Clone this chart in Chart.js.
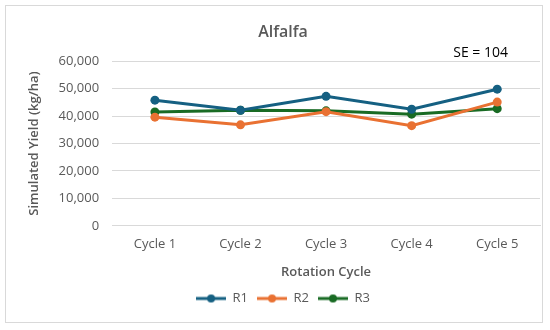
<!DOCTYPE html>
<html lang="en">
<head>
    <meta charset="UTF-8">
    <title>Alfalfa</title>
    <style>
        body { margin: 0; padding: 0; background: #fff; }
        #wrap { position: absolute; left: 0; top: 0; width: 550px; height: 330px; }
    </style>
    <script src="https://cdn.jsdelivr.net/npm/chart.js@4.4.1/dist/chart.umd.min.js"></script>
</head>
<body>
    <div id="wrap"><canvas id="yieldChart"></canvas></div>
    <script>
        // Data
        const cycles = ['Cycle 1', 'Cycle 2', 'Cycle 3', 'Cycle 4', 'Cycle 5'];
        const r1 = [45800, 42100, 47200, 42500, 49800];
        const r2 = [39600, 36800, 41600, 36500, 45100];
        const r3 = [41500, 42100, 41900, 40700, 42700];
        const seLabel = 'SE = 104';

        const FONT = '"Open Sans", "Noto Sans", sans-serif';
        const GREY = '#595959';

        // legend marker: short line with a dot in the middle
        function legendMarker(color) {
            const c = document.createElement('canvas');
            c.width = 30; c.height = 10;
            const g = c.getContext('2d');
            g.strokeStyle = color; g.lineWidth = 3;
            g.beginPath(); g.moveTo(0, 5); g.lineTo(30, 5); g.stroke();
            g.fillStyle = color;
            g.beginPath(); g.arc(15, 5, 4, 0, Math.PI * 2); g.fill();
            return c;
        }

        function series(label, data, color) {
            return {
                label: label,
                data: data,
                borderColor: color,
                backgroundColor: color,
                borderWidth: 3,
                pointRadius: 4.5,
                pointBorderWidth: 0,
                pointStyle: 'circle',
                tension: 0,
                legendMarker: legendMarker(color)
            };
        }

        const frameAndNote = {
            id: 'frameAndNote',
            beforeDraw(chart) {
                const ctx = chart.ctx;
                ctx.save();
                ctx.fillStyle = '#fff';
                ctx.fillRect(0, 0, chart.width, chart.height);
                ctx.strokeStyle = '#d9d9d9';
                ctx.lineWidth = 1;
                ctx.strokeRect(5.5, 5.5, 537, 317);
                ctx.restore();
            },
            afterDraw(chart) {
                const ctx = chart.ctx;
                const a = chart.chartArea;
                ctx.save();
                ctx.font = '14px ' + FONT;
                ctx.fillStyle = '#000';
                ctx.textAlign = 'right';
                ctx.textBaseline = 'middle';
                ctx.fillText(seLabel, a.right - 32, a.top - 8);
                ctx.restore();
            }
        };

        const ctx = document.getElementById('yieldChart').getContext('2d');
        new Chart(ctx, {
            type: 'line',
            data: {
                labels: cycles,
                datasets: [
                    series('R1', r1, '#156082'),
                    series('R2', r2, '#E97132'),
                    series('R3', r3, '#196B24')
                ]
            },
            options: {
                responsive: true,
                maintainAspectRatio: false,
                animation: false,
                layout: { padding: { left: 26, right: 10, top: 8, bottom: 15 } },
                plugins: {
                    title: {
                        display: true,
                        text: 'Alfalfa',
                        color: GREY,
                        font: { family: FONT, size: 16, weight: '600' },
                        padding: { top: 15, bottom: 19 }
                    },
                    legend: {
                        position: 'bottom',
                        labels: {
                            usePointStyle: true,
                            pointStyleWidth: 30,
                            color: GREY,
                            font: { family: FONT, size: 13 },
                            padding: 9,
                            generateLabels(chart) {
                                return chart.data.datasets.map((ds, i) => ({
                                    text: ds.label,
                                    fillStyle: ds.borderColor,
                                    strokeStyle: ds.borderColor,
                                    lineWidth: 0,
                                    pointStyle: ds.legendMarker,
                                    fontColor: GREY,
                                    hidden: false,
                                    datasetIndex: i
                                }));
                            }
                        }
                    },
                    tooltip: { enabled: false }
                },
                scales: {
                    x: {
                        offset: true,
                        grid: { display: false },
                        border: { color: '#d9d9d9' },
                        ticks: { color: GREY, font: { family: FONT, size: 13 }, padding: 3 },
                        title: {
                            display: true,
                            text: 'Rotation Cycle',
                            color: GREY,
                            font: { family: FONT, size: 13, weight: '600' },
                            padding: { top: 9, bottom: 3 }
                        }
                    },
                    y: {
                        min: 0,
                        max: 60000,
                        ticks: { stepSize: 10000, color: GREY, font: { family: FONT, size: 13 }, padding: 13 },
                        grid: { color: '#d9d9d9', drawTicks: false },
                        border: { display: false },
                        title: {
                            display: true,
                            text: 'Simulated Yield (kg/ha)',
                            color: GREY,
                            font: { family: FONT, size: 13, weight: '600' },
                            padding: { top: 0, bottom: 4 }
                        }
                    }
                }
            },
            plugins: [frameAndNote]
        });
    </script>
</body>
</html>
